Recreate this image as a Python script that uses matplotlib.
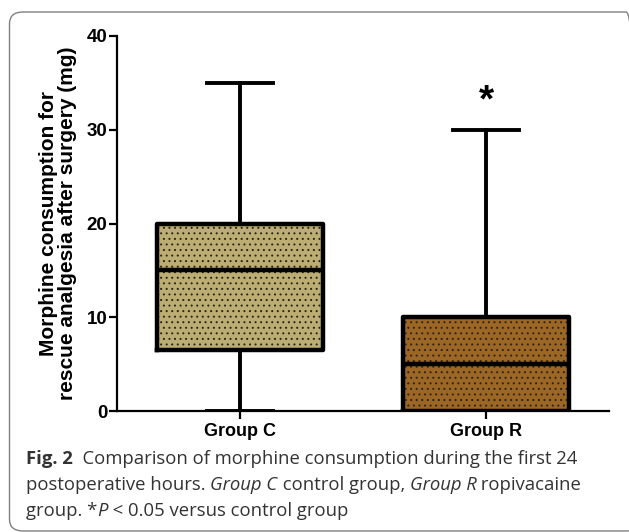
import matplotlib
matplotlib.use("Agg")
import matplotlib.pyplot as plt
from matplotlib.patches import FancyBboxPatch

categories = ["Group C", "Group R"]
whisker_low = [0, 0]
q1 = [6.5, 0]
median = [15, 5]
q3 = [20, 10]
whisker_high = [35, 30]
fill_colors = ["#bcad72", "#9c6624"]
yticks = [0, 10, 20, 30, 40]
ylabel = "Morphine consumption for\nrescue analgesia after surgery (mg)"

W, H = 629, 532
fig = plt.figure(figsize=(W / 100, H / 100), dpi=100)

# rounded frame
frame = FancyBboxPatch((9.5 / W, 1 - 531 / H), (640 - 9.5) / W, (531 - 12) / H,
                       boxstyle="round,pad=0,rounding_size=0.022",
                       transform=fig.transFigure, facecolor="none",
                       edgecolor="#808080", linewidth=1.0, clip_on=False)
fig.patches.append(frame)

ax = fig.add_axes([117 / W, 1 - 411 / H, (609 - 117) / W, (411 - 36) / H])

stats = []
for i, c in enumerate(categories):
    stats.append(dict(label=c, whislo=whisker_low[i], q1=q1[i], med=median[i],
                      q3=q3[i], whishi=whisker_high[i], fliers=[]))

positions = list(range(len(categories)))
plt.rcParams['hatch.linewidth'] = 0.7

# filled, dotted boxes
bp_fill = ax.bxp(stats, positions=positions, widths=0.675, patch_artist=True,
                 showfliers=False, showcaps=False,
                 whiskerprops=dict(linewidth=0), medianprops=dict(linewidth=0),
                 boxprops=dict(linewidth=0))
for patch, col in zip(bp_fill["boxes"], fill_colors):
    patch.set_facecolor(col)
    patch.set_edgecolor("#2a2418")
    patch.set_hatch("...")
    patch.set_linewidth(0)

# outlines
ax.bxp(stats, positions=positions, widths=0.675, patch_artist=False,
       showfliers=False,
       boxprops=dict(linewidth=3.2, color="black"),
       whiskerprops=dict(linewidth=2.8, color="black"),
       capprops=dict(linewidth=2.8, color="black"),
       medianprops=dict(linewidth=3.2, color="black"),
       capwidths=0.265)

ax.set_xlim(-0.5, 1.5)
ax.set_ylim(0, 40)
ax.set_yticks(yticks)
ax.set_xticks(positions)
ax.set_xticklabels(categories, fontweight="bold", fontsize=13,
                   family="Liberation Sans")
ax.set_yticklabels([str(v) for v in yticks], fontweight="bold", fontsize=13.5,
                   family="Liberation Sans")
for s in ["top", "right"]:
    ax.spines[s].set_visible(False)
for s in ["left", "bottom"]:
    ax.spines[s].set_linewidth(1.6)
ax.tick_params(axis="both", direction="out", length=6, width=1.6, pad=1)
ax.tick_params(axis="x", pad=3)
ax.set_ylabel(ylabel, fontweight="bold", fontsize=15, family="Liberation Sans",
              linespacing=1.0)
ax.yaxis.set_label_coords(-0.082, 0.5)
ax.patch.set_alpha(0)

# significance asterisk
ax.text(1, 33.0, "*", ha="center", va="center", fontsize=28, fontweight="bold",
        family="Liberation Sans")

# caption with mixed styles
cap_color = "#333333"
fam = "Open Sans"
fs = 13.3
lines = [
    [("Fig. 2", "bold", "normal"), ("  Comparison of morphine consumption during the first 24", "normal", "normal")],
    [("postoperative hours. ", "normal", "normal"), ("Group C", "normal", "italic"),
     (" control group, ", "normal", "normal"), ("Group R", "normal", "italic"),
     (" ropivacaine", "normal", "normal")],
    [("group. *", "normal", "normal"), ("P", "normal", "italic"),
     (" < 0.05 versus control group", "normal", "normal")],
]
baselines = [464, 490, 516]
fig.canvas.draw()
renderer = fig.canvas.get_renderer()
for line, yb in zip(lines, baselines):
    x = 26
    for txt, wt, st in line:
        t = fig.text(x / W, 1 - yb / H, txt, fontsize=fs, fontweight=wt, fontstyle=st,
                     family=fam, color=cap_color, va="baseline", ha="left")
        bb = t.get_window_extent(renderer=renderer)
        x += bb.width

fig.savefig("out.png", dpi=100)
